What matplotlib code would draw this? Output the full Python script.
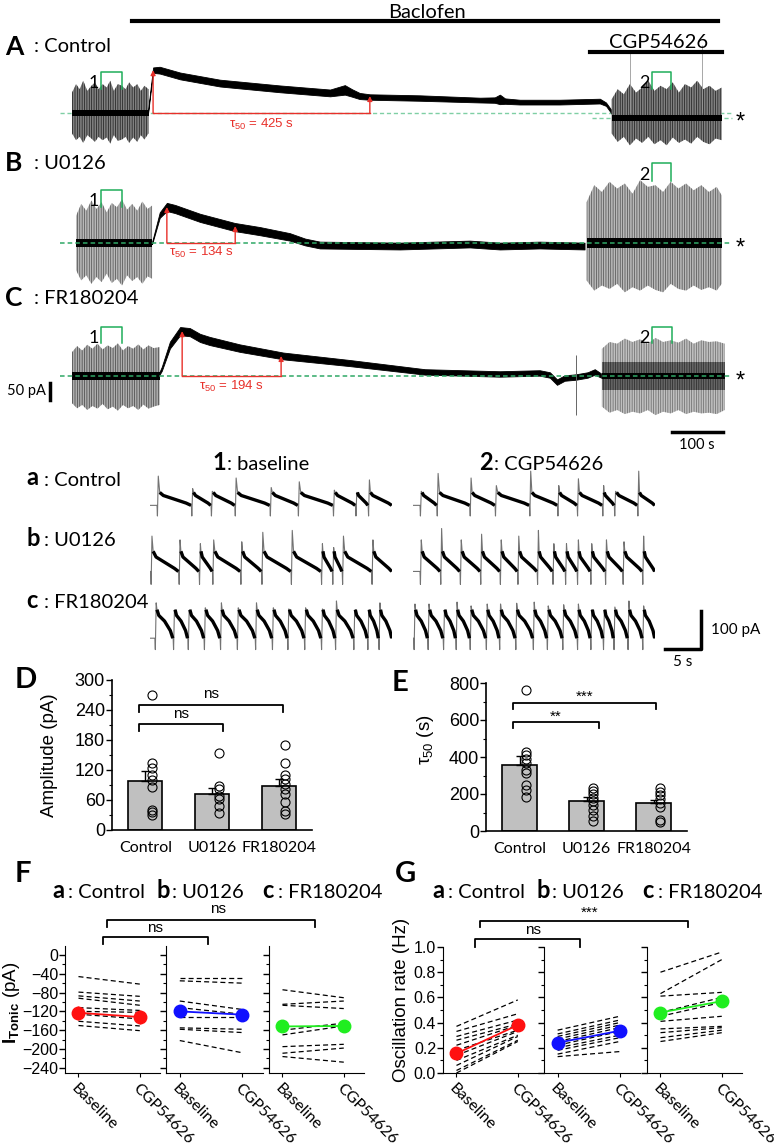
import matplotlib
matplotlib.use('Agg')
import matplotlib.pyplot as plt
from matplotlib.lines import Line2D
from matplotlib.ticker import MultipleLocator
import numpy as np

W, H = 774, 1147
SANS = ['Lato', 'DejaVu Sans']
ARIAL = ['Liberation Sans', 'DejaVu Sans']
plt.rcParams['font.family'] = SANS
plt.rcParams['mathtext.fontset'] = 'custom'
plt.rcParams['mathtext.rm'] = 'Liberation Sans'
plt.rcParams['mathtext.it'] = 'Liberation Sans:italic'
plt.rcParams['mathtext.bf'] = 'Liberation Sans:bold'
plt.rcParams['hatch.linewidth'] = 0.5

RED, BLUE, GREEN = '#ff1010', '#1010ff', '#20ee20'
TAU_RED = '#e8302a'
DASH_GREEN = '#2fa866'

# ---------------- A/B/C traces: time (s), current (pA, 0 = baseline)
a_pre_t = [0, 8, 15, 22, 30, 38, 45, 52, 60, 68, 75, 82, 90, 98, 105, 112, 120, 128, 135, 142, 150]
a_pre_hi = [60, 85, 70, 95, 65, 80, 90, 70, 85, 75, 95, 65, 85, 80, 70, 90, 75, 85, 65, 80, 70]
a_pre_lo = [-60, -80, -70, -88, -65, -75, -85, -70, -80, -72, -90, -65, -82, -78, -70, -88, -72, -85, -65, -78, -60]
a_dec_t = [149, 153, 159, 172, 212, 290, 408, 506, 535, 549, 564, 584, 682, 800, 829, 839, 849, 878, 956, 1035, 1047, 1058, 1070]
a_dec_y = [0, 53, 126, 126, 109, 88, 71, 59, 68, 59, 50, 47, 44, 38, 38, 40, 35, 32, 32, 35, 26, 3, -12]
a_dec_w = [3, 5, 8, 10, 10, 10, 10, 10, 14, 11, 9, 8, 8, 7, 8, 14, 8, 7, 7, 7, 5, 5, 5]
a_post_t = [1058, 1070, 1082, 1094, 1106, 1118, 1130, 1142, 1154, 1166, 1178, 1190, 1202, 1214, 1226, 1238, 1250, 1262, 1274]
a_post_hi = [40, 70, 55, 85, 60, 75, 95, 65, 80, 70, 90, 60, 85, 75, 95, 70, 80, 65, 75]
a_post_lo = [-60, -85, -70, -95, -75, -88, -70, -92, -80, -95, -72, -88, -78, -90, -70, -85, -92, -75, -80]
a_cgp_level = -14
a_tau, a_peak_t, a_peak, a_half = 425, 159, 126, 50

b_pre_t = [8, 18, 28, 38, 48, 58, 68, 78, 88, 98, 108, 118, 128, 138, 148, 157]
b_pre_hi = [80, 115, 95, 125, 100, 120, 90, 118, 105, 128, 98, 115, 95, 122, 100, 110]
b_pre_lo = [-80, -110, -95, -120, -100, -115, -90, -118, -105, -125, -95, -112, -100, -120, -98, -105]
b_dec_t = [157, 172, 186, 202, 251, 319, 368, 427, 457, 486, 643, 780, 839, 917, 1005]
b_dec_y = [0, 82, 106, 100, 74, 47, 35, 18, 3, -6, -9, -3, -9, -6, -9]
b_dec_w = [3, 8, 12, 12, 12, 12, 12, 11, 10, 10, 10, 10, 10, 10, 10]
b_post_t = [1009, 1024, 1039, 1054, 1069, 1084, 1099, 1114, 1129, 1144, 1159, 1174, 1189, 1204, 1219, 1234, 1249, 1264, 1274]
b_post_hi = [120, 170, 150, 180, 160, 175, 145, 185, 165, 170, 150, 180, 160, 175, 155, 170, 150, 165, 140]
b_post_lo = [-110, -140, -125, -135, -120, -145, -130, -140, -125, -138, -145, -120, -135, -140, -125, -138, -130, -140, -120]
b_tau, b_peak_t, b_peak, b_half = 134, 186, 106, 50

c_pre_t = [0, 10, 20, 30, 40, 50, 60, 70, 80, 90, 100, 110, 120, 130, 140, 150, 160, 172]
c_pre_hi = [70, 88, 75, 92, 80, 95, 78, 90, 82, 96, 75, 88, 80, 93, 78, 90, 82, 85]
c_pre_lo = [-80, -95, -85, -100, -88, -96, -82, -98, -90, -102, -85, -95, -88, -100, -84, -96, -90, -85]
c_dec_t = [169, 176, 192, 212, 231, 251, 270, 329, 414, 545, 692, 839, 917, 937, 951, 966, 988, 1011, 1025, 1039]
c_dec_y = [0, 21, 91, 132, 129, 112, 103, 82, 59, 38, 12, 6, 9, 3, -18, -6, -3, 3, 12, 0]
c_dec_w = [3, 6, 10, 12, 12, 12, 12, 11, 10, 9, 8, 8, 8, 8, 8, 8, 8, 8, 8, 6]
c_post_t = [1039, 1054, 1069, 1084, 1099, 1114, 1129, 1144, 1159, 1174, 1189, 1204, 1219, 1234, 1249, 1264, 1280]
c_post_hi = [80, 100, 95, 110, 100, 108, 95, 112, 100, 105, 98, 110, 95, 105, 100, 102, 95]
c_post_lo = [-90, -108, -100, -112, -105, -110, -100, -115, -105, -110, -100, -112, -105, -110, -108, -112, -100]
c_artifact = (988, -115, 62)
c_tau, c_peak_t, c_peak, c_half = 194, 216, 132, 59

# ---------------- a/b/c: oscillation windows, time (s), current (pA)
cyc_frac = [0.04, 0.15, 0.5, 0.85, 1.0]
row_a = dict(decay=[12, 4, -6, -16, -22], floor=-50,
             lt=[1.0, 5.9, 8.7, 12.1, 17.1, 21.1, 26.1, 29.3, 31.1],
             lp=[55, 22, 15, 50, 25, 40, 18, 12, 45],
             rt=[1.0, 3.4, 8.1, 11.7, 16.6, 20.6, 23.4, 27.0, 28.7, 32.0],
             rp=[15, 62, 50, 30, 68, 30, 48, 30, 15, 68])
row_b = dict(decay=[15, 0, -15, -30, -38], floor=-72,
             lt=[0.1, 4.1, 7.0, 8.9, 12.9, 15.9, 20.1, 24.4, 26.0, 27.4, 31.6],
             lp=[55, 45, 35, 45, 40, 65, 70, 35, 25, 55, 45],
             rt=[1.0, 3.9, 6.7, 9.6, 12.4, 14.9, 17.7, 19.9, 21.7, 23.4, 25.3, 27.4, 29.9, 32.7],
             rp=[45, 75, 45, 60, 45, 55, 70, 35, 35, 45, 35, 45, 40, 55])
row_c = dict(decay=[35, 20, 5, -20, -40], floor=-70,
             lt=[0.7, 3.3, 5.4, 7.7, 10.0, 12.4, 15.0, 17.4, 19.6, 22.0, 24.4, 26.4, 29.0, 31.0, 32.6],
             lp=[53, 32, 30, 40, 53, 40, 53, 40, 37, 40, 37, 58, 30, 24, 53],
             rt=[0.1, 2.1, 4.3, 6.1, 8.1, 10.4, 12.3, 14.6, 17.1, 19.1, 21.3, 23.4, 25.3, 27.1, 28.6, 30.6, 32.7],
             rp=[50, 50, 32, 55, 45, 50, 50, 52, 55, 45, 48, 50, 35, 30, 42, 58, 45])
win_len = 34.5

# ---------------- D / E
groups = ['Control', 'U0126', 'FR180204']
amp_mean = [98, 73, 88]
amp_sem = [20, 12, 14]
amp_pts = [[270, 135, 124, 110, 100, 86, 41, 36, 31],
           [155, 88, 82, 68, 62, 48, 35],
           [170, 134, 110, 103, 93, 83, 73, 56, 39, 32]]
tau_mean = [358, 162, 151]
tau_sem = [47, 23, 19]
tau_pts = [[762, 428, 410, 390, 370, 330, 312, 250, 220, 185],
           [230, 215, 200, 180, 160, 140, 115, 80, 55],
           [230, 210, 195, 175, 150, 130, 60, 50]]

# ---------------- F / G
conds = ['Baseline', 'CGP54626']
ton_base = [[-46, -79, -87, -92, -112, -120, -126, -141, -150],
            [-48, -55, -98, -112, -131, -155, -158, -182],
            [-74, -105, -107, -160, -170, -195, -209, -216]]
ton_cgp = [[-62, -88, -98, -107, -118, -122, -136, -151, -161],
           [-48, -60, -116, -126, -131, -158, -165, -208],
           [-91, -98, -114, -145, -151, -190, -198, -228]]
ton_mean = [[-123, -132], [-120, -127], [-152, -151]]
ton_err = [[15, 15], [8, 8], [10, 12]]
rate_base = [[0.37, 0.33, 0.29, 0.26, 0.22, 0.18, 0.14, 0.10, 0.06, 0.02, 0.0],
             [0.34, 0.31, 0.29, 0.27, 0.25, 0.22, 0.20, 0.18, 0.15, 0.13],
             [0.80, 0.63, 0.61, 0.48, 0.45, 0.41, 0.35, 0.32, 0.28, 0.25]]
rate_cgp = [[0.58, 0.47, 0.42, 0.39, 0.38, 0.34, 0.33, 0.30, 0.29, 0.26, 0.25],
            [0.45, 0.42, 0.40, 0.38, 0.36, 0.33, 0.30, 0.28, 0.25, 0.17],
            [0.96, 0.90, 0.64, 0.60, 0.56, 0.45, 0.37, 0.36, 0.34, 0.32]]
rate_mean = [[0.155, 0.38], [0.24, 0.335], [0.48, 0.57]]
rate_err = [[0.02, 0.03], [0.03, 0.03], [0.04, 0.05]]
grp_colors = [RED, BLUE, GREEN]

fig = plt.figure(figsize=(W / 100, H / 100), dpi=100)


def box(x0, y0, x1, y1):
    return fig.add_axes([x0 / W, 1 - y1 / H, (x1 - x0) / W, (y1 - y0) / H])


def txt(x, y, s, **kw):
    kw.setdefault('ha', 'left')
    kw.setdefault('va', 'center')
    fig.text(x / W, 1 - y / H, s, **kw)


def fline(xs, ys, **kw):
    kw.setdefault('color', 'k')
    fig.add_artist(Line2D([x / W for x in xs], [1 - y / H for y in ys], **kw))


# ======================= A / B / C =======================
S_PX = 100 / 51    # s per pixel
PA_PX = 50 / 17    # pA per pixel


def trace_axes(y0, y1, base):
    ax = box(0, y0, W, y1)
    ax.set_xlim(-72 * S_PX, (W - 72) * S_PX)
    ax.set_ylim(-(y1 - base) * PA_PX, (base - y0) * PA_PX)
    ax.axis('off')
    return ax


def osc(ax, t, hi, lo, mid=0, core=10, shade=None, face='0.7', edge='0.25'):
    ax.fill_between(t, lo, hi, facecolor=face, edgecolor=edge, hatch='|||||||', lw=0)
    if shade:
        ax.fill_between(t, mid - shade, mid + shade, facecolor='0.4', edgecolor='0.15',
                        hatch='|||||||', lw=0)
    ax.fill_between(t, mid - core, mid + core, color='k', lw=0)


def band(ax, t, y, w):
    y, w = np.array(y), np.array(w)
    ax.fill_between(t, y - w, y + w, color='k', lw=0.6)


def tau_marks(ax, t0, peak, tau, half, text_y):
    ax.annotate('', xy=(t0, peak), xytext=(t0, 0),
                arrowprops=dict(arrowstyle='-|>', color=TAU_RED, lw=1, mutation_scale=7, shrinkA=0, shrinkB=0))
    ax.plot([t0, t0 + tau], [0, 0], color=TAU_RED, lw=1)
    ax.annotate('', xy=(t0 + tau, half), xytext=(t0 + tau, 0),
                arrowprops=dict(arrowstyle='-|>', color=TAU_RED, lw=1, mutation_scale=7, shrinkA=0, shrinkB=0))
    ax.text(t0 + tau / 2, text_y, r'$\mathrm{\tau}_{50}$ = %d s' % tau, color=TAU_RED,
            fontsize=9.5, ha='center', va='center', family=ARIAL)


def window(ax, t0, t1, lo, hi, label):
    ax.plot([t0, t0, t1, t1], [lo, hi, hi, lo], color='#1fae5a', lw=1.1)
    ax.text(t0 - 4, (lo + hi) / 2 - 8, label, fontsize=13, ha='right', va='center')


# A
ax = trace_axes(35, 150, 113)
ax.plot([-24, 1294], [0, 0], ls=(0, (3, 2)), color='#7fcfa4', lw=1, zorder=0)
ax.plot([1019, 1294], [a_cgp_level, a_cgp_level], ls=(0, (3, 2)), color='#7fcfa4', lw=1, zorder=0)
osc(ax, a_pre_t, a_pre_hi, a_pre_lo, 0, 9, face='0.5', edge='0.1')
band(ax, a_dec_t, a_dec_y, a_dec_w)
osc(ax, a_post_t, a_post_hi, a_post_lo, a_cgp_level, 9, face='0.5', edge='0.1')
ax.vlines([1094, 1235], 0, [185, 200], color='0.6', lw=0.6)
tau_marks(ax, a_peak_t, a_peak, a_tau, a_half, -35)
window(ax, 57, 98, 70, 120, '1')
window(ax, 1137, 1174, 70, 120, '2')

# B
ax = trace_axes(150, 300, 243)
osc(ax, b_pre_t, b_pre_hi, b_pre_lo, 0, 12, face='0.72', edge='0.3')
band(ax, b_dec_t, b_dec_y, b_dec_w)
osc(ax, b_post_t, b_post_hi, b_post_lo, 0, 14, face='0.72', edge='0.3')
ax.plot([-24, 1294], [0, 0], ls=(0, (3, 2)), color=DASH_GREEN, lw=1.1)
tau_marks(ax, b_peak_t, b_peak, b_tau, b_half, -27)
window(ax, 57, 98, 106, 156, '1')
window(ax, 1137, 1174, 182, 235, '2')

# C
ax = trace_axes(300, 430, 376)
osc(ax, c_pre_t, c_pre_hi, c_pre_lo, 0, 12, face='0.68', edge='0.25')
band(ax, c_dec_t, c_dec_y, c_dec_w)
ax.vlines(c_artifact[0], c_artifact[1], c_artifact[2], color='0.4', lw=0.7)
osc(ax, c_post_t, c_post_hi, c_post_lo, 0, 10, shade=40, face='0.75', edge='0.4')
ax.plot([-24, 1294], [0, 0], ls=(0, (3, 2)), color=DASH_GREEN, lw=1.1)
tau_marks(ax, c_peak_t, c_peak, c_tau, c_half, -32)
window(ax, 57, 98, 97, 144, '1')
window(ax, 1137, 1176, 97, 144, '2')

# labels / bars
txt(427, 12, 'Baclofen', ha='center', fontsize=14.5)
fline([132, 718], [21, 21], lw=3)
txt(659, 42, 'CGP54626', ha='center', fontsize=14.5)
fline([590, 722], [52, 52], lw=3)
for y, letter, name in [(47, 'A', ': Control'), (163, 'B', ': U0126'), (298, 'C', ': FR180204')]:
    txt(5, y, letter, fontsize=19, fontweight='bold')
    txt(34, y, name, fontsize=14.5)
for y in [123, 249, 382]:
    txt(740, y, '*', ha='center', fontsize=17, family=ARIAL)
fline([50, 50], [383, 400], lw=2.5)
txt(46, 391, '50 pA', ha='right', fontsize=10.5)
fline([672, 723], [432, 432], lw=2.5)
txt(697, 445, '100 s', ha='center', fontsize=10.5)

# ======================= a / b / c =======================


def burst(t_spk, peaks, decay, floor, t_end):
    xs, ys = [0.0], [decay[-1]]
    segs = []
    for i, t0 in enumerate(t_spk):
        t1 = t_spk[i + 1] if i + 1 < len(t_spk) else t_end
        xs += [t0, t0 + 0.06, t0 + 0.18]
        ys += [decay[-1], floor, peaks[i]]
        span = t1 - t0 - 0.25
        seg_x = [t0 + 0.18] + [t0 + 0.2 + f * span for f in cyc_frac]
        seg_y = [peaks[i]] + list(decay)
        if t1 == t_end:
            keep = [k for k, v in enumerate(seg_x) if v <= t_end]
            seg_x = [seg_x[k] for k in keep]
            seg_y = [seg_y[k] for k in keep]
        xs += seg_x[1:]
        ys += seg_y[1:]
        segs.append((seg_x[1:], seg_y[1:]))
    return xs, ys, segs


for row, yc in [(row_a, 497), (row_b, 557), (row_c, 623)]:
    for key_t, key_p, x0 in [('lt', 'lp', 150), ('rt', 'rp', 413)]:
        ax = box(x0, yc - 35, x0 + 242, yc + 35)
        ax.set_xlim(0, win_len)
        ax.set_ylim(-35 * 100 / 38, 35 * 100 / 38)
        ax.axis('off')
        xs, ys, segs = burst(row[key_t], row[key_p], row['decay'], row['floor'], win_len)
        ax.plot(xs, ys, color='0.45', lw=0.8)
        for sx, sy in segs:
            ax.plot(sx, sy, color='k', lw=2.4, solid_capstyle='butt')

txt(212, 462, '1', fontsize=17, fontweight='bold')
txt(227, 464, ': baseline', fontsize=14.5)
txt(479, 462, '2', fontsize=17, fontweight='bold')
txt(494, 464, ': CGP54626', fontsize=14.5)
for y, letter, name in [(480, 'a', ': Control'), (540, 'b', ': U0126'), (602, 'c', ': FR180204')]:
    txt(26, y - 2, letter, fontsize=17, fontweight='bold')
    txt(44, y, name, fontsize=14.5)
fline([665, 701, 701], [649, 649, 611], lw=2.5)
txt(711, 630, '100 pA', fontsize=11)
txt(683, 662, '5 s', ha='center', fontsize=11)

# ======================= D / E =======================


def bar_panel(ax, means, sems, pts, ymax, step, ylabel, brackets):
    x = np.arange(len(groups))
    ax.bar(x, means, width=0.51, color='#c0c0c0', edgecolor='k', lw=1.2, zorder=2)
    ax.errorbar(x, means, yerr=[np.zeros(len(x)), sems], fmt='none', ecolor='k',
                elinewidth=1, capsize=3, capthick=1, zorder=3)
    for i, vals in enumerate(pts):
        ax.plot(np.full(len(vals), i + 0.1), vals, 'o', mfc='none', mec='k', ms=6.5, mew=0.8, zorder=4)
    ax.set_xlim(-0.5, 2.5)
    ax.set_ylim(0, ymax)
    ax.yaxis.set_major_locator(MultipleLocator(step))
    ax.yaxis.set_minor_locator(MultipleLocator(step / 2))
    for s in ['top', 'right']:
        ax.spines[s].set_visible(False)
    for s in ['left', 'bottom']:
        ax.spines[s].set_linewidth(1.2)
    ax.tick_params(axis='y', direction='out', length=4, width=1, labelsize=13, labelfontfamily=ARIAL, pad=1)
    ax.tick_params(axis='y', which='minor', length=2.5, width=0.8)
    ax.set_xticks(x, groups)
    ax.tick_params(axis='x', length=0, labelsize=11.5, pad=8)
    ax.set_ylabel(ylabel, fontsize=13.5, family=ARIAL)
    for x0, x1, ylo, yhi, lab, ty in brackets:
        ax.plot([x0, x0, x1, x1], [ylo, yhi, yhi, ylo], color='k', lw=1.3, clip_on=False)
        ax.text((x0 + x1) / 2, ty, lab, ha='center', va='center', fontsize=11, family=ARIAL)


axD = box(112, 680, 312, 830)
bar_panel(axD, amp_mean, amp_sem, amp_pts, 300, 60, 'Amplitude (pA)',
          [(-0.1, 1.17, 198, 212, 'ns', 232), (-0.1, 2.07, 236, 250, 'ns', 271)])
axD.yaxis.set_label_coords(-0.27, 0.5)
axE = box(486, 683, 687, 831)
bar_panel(axE, tau_mean, tau_sem, tau_pts, 800, 200, r'$\mathrm{\tau}_{50}$ (s)',
          [(-0.1, 1.19, 556, 589, '**', 620), (-0.1, 2.04, 659, 692, '***', 725)])
axE.yaxis.set_label_coords(-0.25, 0.62)
txt(15, 680, 'D', fontsize=21, fontweight='bold')
txt(392, 683, 'E', fontsize=21, fontweight='bold')

# ======================= F / G =======================


def pair_panels(boxes, y0, y1, base, cgp, means, errs, ylim, step, fmt):
    axes = []
    for i, (x0, x1) in enumerate(boxes):
        ax = box(x0, y0, x1, y1)
        for b, c in zip(base[i], cgp[i]):
            ax.plot([0, 1], [b, c], color='k', lw=0.9, ls=(0, (4, 2.5)), zorder=2)
        ax.errorbar([0, 1], means[i], yerr=errs[i], color=grp_colors[i], marker='o', ms=9,
                    lw=1.3, elinewidth=1, capsize=0, zorder=5)
        ax.set_xlim(-0.22, 1.33)
        ax.set_ylim(*ylim)
        ax.yaxis.set_major_locator(MultipleLocator(step))
        ax.yaxis.set_minor_locator(MultipleLocator(step / 2))
        for s in ['top', 'right']:
            ax.spines[s].set_visible(False)
        ax.tick_params(axis='y', direction='out', length=4, width=1, labelsize=11.5,
                       labelfontfamily=ARIAL, pad=1)
        ax.tick_params(axis='y', which='minor', length=2.5, width=0.8)
        if fmt:
            ax.yaxis.set_major_formatter(fmt)
        if i > 0:
            ax.set_yticklabels([])
        ax.set_xticks([0, 1])
        ax.set_xticklabels(conds, rotation=-45, ha='left', rotation_mode='anchor', fontsize=11.5)
        ax.tick_params(axis='x', length=3, pad=3)
        axes.append(ax)
    return axes


pair_panels([(65, 160), (166, 263), (269, 364)], 946, 1073, ton_base, ton_cgp,
            ton_mean, ton_err, (-251, 19), 40, None)
pair_panels([(443, 538), (544, 640), (647, 742)], 947, 1073, rate_base, rate_cgp,
            rate_mean, rate_err, (0, 1.0), 0.2, '{x:.1f}')

for x0, letter in [(15, 'F'), (395, 'G')]:
    txt(x0, 874, letter, fontsize=21, fontweight='bold')
for dx in [0, 380]:
    txt(52 + dx, 891, 'a', fontsize=17, fontweight='bold')
    txt(68 + dx, 893, ': Control', fontsize=14.5)
    txt(156 + dx, 891, 'b', fontsize=17, fontweight='bold')
    txt(172 + dx, 893, ': U0126', fontsize=14.5)
    txt(262 + dx, 891, 'c', fontsize=17, fontweight='bold')
    txt(278 + dx, 893, ': FR180204', fontsize=14.5)

fline([103, 103, 208, 208], [944, 937, 937, 944], lw=1.3)
txt(155, 928, 'ns', ha='center', fontsize=11, family=ARIAL)
fline([107, 107, 315, 315], [927, 920, 920, 927], lw=1.3)
txt(218, 909, 'ns', ha='center', fontsize=11, family=ARIAL)
fline([475, 475, 580, 580], [947, 939, 939, 947], lw=1.3)
txt(533, 930, 'ns', ha='center', fontsize=11, family=ARIAL)
fline([480, 480, 688, 688], [927, 921, 921, 927], lw=1.3)
txt(590, 913, '***', ha='center', fontsize=11, family=ARIAL)

txt(12, 1003, r'$\mathbf{I}_{\mathbf{Tonic}}$ (pA)', ha='center', rotation=90, fontsize=13.5, family=ARIAL)
txt(401, 1000, 'Oscillation rate (Hz)', ha='center', rotation=90, fontsize=13.5, family=ARIAL)

fig.savefig('out.png', dpi=100)
